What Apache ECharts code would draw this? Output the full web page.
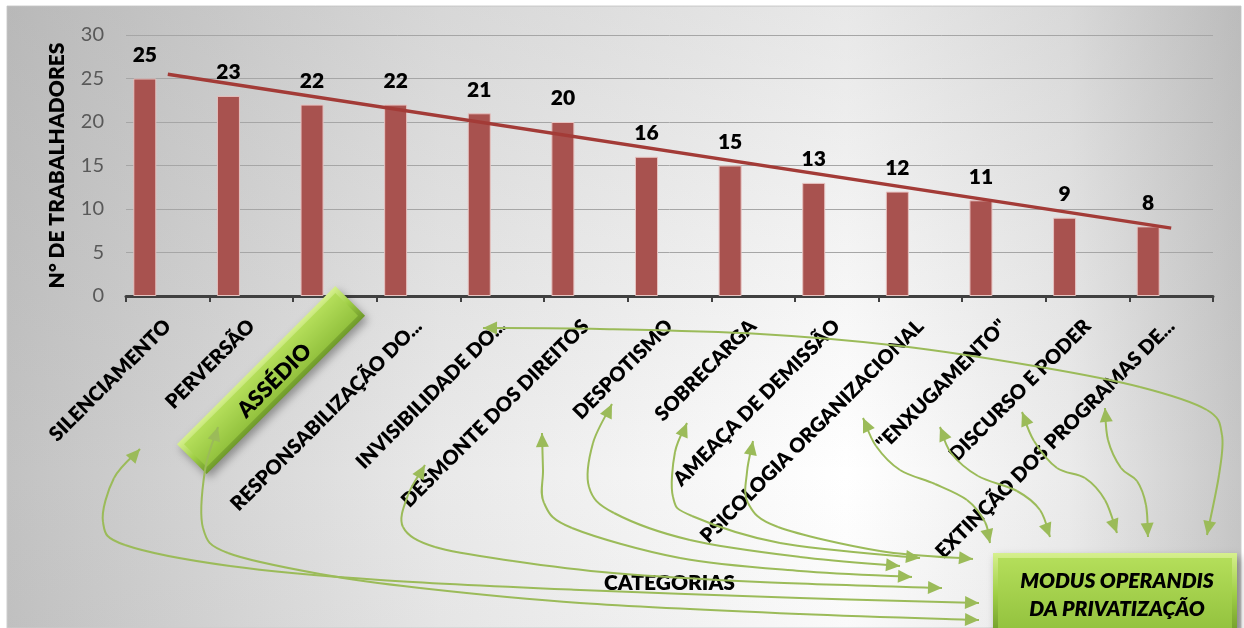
<!DOCTYPE html>
<html>
<head>
<meta charset="utf-8">
<script src="https://cdn.jsdelivr.net/npm/echarts@6/dist/echarts.min.js"></script>
<style>
  html, body { margin: 0; padding: 0; background: #ffffff; }
  #chart { width: 1244px; height: 628px; }
</style>
</head>
<body>
<div id="chart"></div>
<script>
// Categories of the "modus operandi" and number of workers citing each one
const categories = [
  'SILENCIAMENTO', 'PERVERSÃO', 'ASSÉDIO', 'RESPONSABILIZAÇÃO DO...',
  'INVISIBILIDADE DO...', 'DESMONTE DOS DIREITOS', 'DESPOTISMO', 'SOBRECARGA',
  'AMEAÇA DE DEMISSÃO', 'PSICOLOGIA ORGANIZACIONAL', '"ENXUGAMENTO"',
  'DISCURSO E PODER', 'EXTINÇÃO DOS PROGRAMAS DE...'
];
const workers = [25, 23, 22, 22, 21, 20, 16, 15, 13, 12, 11, 9, 8];
// Linear trend line, value at the first and at the last category
const trendEnds = [25.5, 7.8];
// Value axis range
const yMin = 0, yMax = 30, yStep = 5;

// ---- decoration geometry (pixels): connector arrows and callout boxes ----
const FONT = 'Lato, "Open Sans", sans-serif';
const HEAVY = 800;
const GREEN = '#9bbb59';
const connectors = [
  [[140,449],[114,478],[103,522],[125,545],[230,566],[380,580],[580,590],[800,598],[979,603]],
  [[218,427],[205,470],[203,528],[228,553],[320,574],[420,588],[580,603],[800,614],[979,620]],
  [[425,465],[408,495],[403,527],[435,547],[513,561],[613,573],[760,582],[942,588]],
  [[542,433],[543,470],[544,503],[572,528],[680,558],[800,571],[912,577]],
  [[612,404],[593,443],[589,487],[614,513],[690,540],[800,557],[900,566]],
  [[687,423],[675,452],[673,497],[692,516],[780,543],[920,558]],
  [[753,441],[747,472],[748,503],[778,527],[880,551],[973,559]],
  [[483,328],[600,329],[760,334],[900,346],[1040,367],[1140,387],[1207,410],[1222,435],[1219,475],[1207,535]],
  [[863,418],[876,446],[900,470],[935,484],[967,500],[985,522],[990,543]],
  [[940,427],[951,453],[978,476],[1017,491],[1040,510],[1050,537]],
  [[1022,412],[1034,441],[1057,468],[1085,478],[1105,500],[1117,533]],
  [[1105,408],[1108,440],[1121,468],[1137,481],[1146,505],[1148,537]]
];

// Smooth curve through waypoints (Catmull-Rom converted to cubic Bezier)
function curveSegments(pts) {
  const segs = [];
  for (let i = 0; i < pts.length - 1; i++) {
    const p0 = pts[i - 1] || pts[i], p1 = pts[i], p2 = pts[i + 1], p3 = pts[i + 2] || pts[i + 1];
    const c1 = [p1[0] + (p2[0] - p0[0]) / 6, p1[1] + (p2[1] - p0[1]) / 6];
    const c2 = [p2[0] - (p3[0] - p1[0]) / 6, p2[1] - (p3[1] - p1[1]) / 6];
    segs.push([p1, c1, c2, p2]);
  }
  return segs;
}
function arrowHead(tip, from, len, wid) {
  let dx = tip[0] - from[0], dy = tip[1] - from[1];
  const d = Math.hypot(dx, dy) || 1; dx /= d; dy /= d;
  const bx = tip[0] - dx * len, by = tip[1] - dy * len;
  return {
    type: 'polygon', silent: true, z: 60,
    shape: { points: [tip, [bx - dy * wid / 2, by + dx * wid / 2], [bx + dy * wid / 2, by - dx * wid / 2]] },
    style: { fill: GREEN }
  };
}
function connectorElements(pts) {
  const segs = curveSegments(pts);
  const els = segs.map(s => ({
    type: 'bezierCurve', silent: true, z: 55,
    shape: { x1: s[0][0], y1: s[0][1], cpx1: s[1][0], cpy1: s[1][1], cpx2: s[2][0], cpy2: s[2][1], x2: s[3][0], y2: s[3][1] },
    style: { fill: null, stroke: GREEN, lineWidth: 2 }
  }));
  const first = segs[0], last = segs[segs.length - 1];
  els.push(arrowHead(first[0], first[1], 14, 13));
  els.push(arrowHead(last[3], last[2], 14, 13));
  return els;
}

function greenBox(w, h, ox, oy) {
  return [
    { type: 'rect', silent: true, z: 50, shape: { x: ox, y: oy, width: w, height: h },
      style: {
        fill: new echarts.graphic.LinearGradient(0, 0, 0, 1, [
          { offset: 0, color: '#d6f08e' }, { offset: 0.5, color: '#a0cf46' }, { offset: 1, color: '#6f9a2a' }
        ]),
        shadowBlur: 8, shadowOffsetX: 3, shadowOffsetY: 4, shadowColor: 'rgba(0,0,0,0.35)'
      } },
    { type: 'rect', silent: true, z: 51, shape: { x: ox + 5, y: oy + 5, width: w - 10, height: h - 10 },
      style: {
        fill: new echarts.graphic.LinearGradient(0, 0, 0, 1, [
          { offset: 0, color: '#b4de5a' }, { offset: 1, color: '#93c23e' }
        ])
      } }
  ];
}

const graphics = [];
// chart area background
graphics.push({
  type: 'rect', silent: true, z: -20,
  shape: { x: 7, y: 6, width: 1234, height: 622 },
  style: {
    fill: new echarts.graphic.LinearGradient(0, 0, 1, 0, [
      { offset: 0, color: '#c2c2c2' }, { offset: 0.35, color: '#e9e9e9' },
      { offset: 0.68, color: '#ffffff' }, { offset: 0.86, color: '#ebebeb' }, { offset: 1, color: '#c6c6c6' }
    ]),
    stroke: '#cfcfcf', lineWidth: 1
  }
});
graphics.push({
  type: 'rect', silent: true, z: -19,
  shape: { x: 7, y: 6, width: 1234, height: 622 },
  style: {
    fill: new echarts.graphic.LinearGradient(0, 0, 0, 1, [
      { offset: 0, color: 'rgba(150,150,150,0.22)' }, { offset: 0.75, color: 'rgba(150,150,150,0)' },
      { offset: 1, color: 'rgba(150,150,150,0.05)' }
    ])
  }
});
connectors.forEach(c => connectorElements(c).forEach(e => graphics.push(e)));
// "ASSÉDIO" callout over the third category label
graphics.push({
  type: 'group', x: 271, y: 380, rotation: Math.PI / 4, z: 50,
  children: greenBox(224, 42, -112, -21).concat([{
    type: 'text', silent: true, z: 52, x: 2, y: 3,
    style: { text: 'ASSÉDIO', font: HEAVY + ' 22px ' + FONT, fill: '#000', align: 'center', verticalAlign: 'middle' }
  }])
});
// "MODUS OPERANDIS DA PRIVATIZAÇÃO" box
graphics.push({
  type: 'group', x: 993, y: 553, z: 50,
  children: greenBox(244, 82, 0, 0).concat([{
    type: 'text', silent: true, z: 52, x: 124, y: 42,
    style: { text: 'MODUS OPERANDIS\nDA PRIVATIZAÇÃO', font: 'italic ' + HEAVY + ' 21px ' + FONT, fill: '#000',
      align: 'center', verticalAlign: 'middle', lineHeight: 28 }
  }])
});

const chart = echarts.init(document.getElementById('chart'), null, { renderer: 'canvas' });
chart.setOption({
  backgroundColor: '#ffffff',
  animation: false,
  grid: { left: 126, right: 31, top: 35, bottom: 332, containLabel: false },
  xAxis: {
    type: 'category',
    data: categories,
    axisLine: { lineStyle: { color: '#404040', width: 3 } },
    axisTick: { show: true, length: 6, lineStyle: { color: '#404040', width: 2 } },
    axisLabel: { interval: 0, rotate: 45, margin: 27, fontFamily: FONT, fontWeight: HEAVY, fontSize: 20, color: '#000' },
    name: 'CATEGORIAS', nameLocation: 'middle', nameGap: 277,
    nameTextStyle: { fontFamily: FONT, fontWeight: HEAVY, fontSize: 21, color: '#000' }
  },
  yAxis: {
    type: 'value', min: yMin, max: yMax, interval: yStep,
    axisLine: { show: false }, axisTick: { show: false },
    axisLabel: { fontFamily: FONT, fontSize: 20, color: '#595959', margin: 22 },
    splitLine: { lineStyle: { color: '#a6a6a6', width: 1 } },
    name: 'N° DE TRABALHADORES', nameLocation: 'middle', nameGap: 58, nameRotate: 90,
    nameTextStyle: { fontFamily: FONT, fontWeight: HEAVY, fontSize: 21, color: '#000' }
  },
  series: [
    {
      name: 'N° de trabalhadores', type: 'bar', data: workers, barWidth: 23, barGap: '0%',
      itemStyle: { color: '#a8524f', borderColor: '#e6c2c0', borderWidth: 1 },
      label: { show: true, position: 'top', distance: 13, fontFamily: FONT, fontWeight: HEAVY, fontSize: 21, color: '#000' },
      z: 3
    },
    { name: 'Série 2', type: 'bar', data: [], barWidth: 23, barGap: '0%' },
    { name: 'Série 3', type: 'bar', data: [], barWidth: 23, barGap: '0%' },
    {
      name: 'Tendência', type: 'line',
      data: [[0, trendEnds[0]], [categories.length - 1, trendEnds[1]]],
      symbol: 'none', lineStyle: { color: '#a33b37', width: 3.5 }, z: 4
    }
  ],
  graphic: graphics
});
</script>
</body>
</html>
